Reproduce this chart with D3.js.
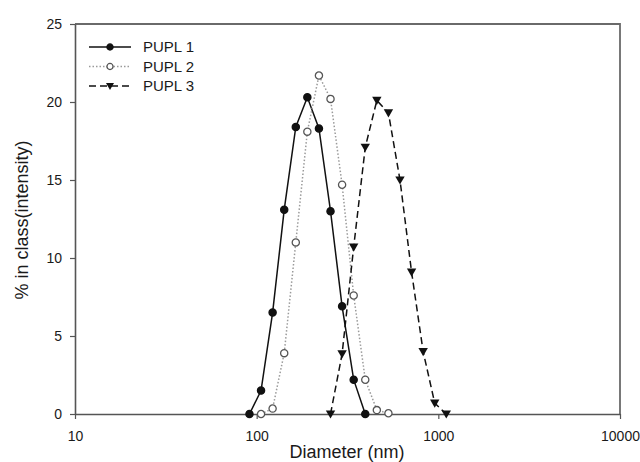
<!DOCTYPE html>
<html>
<head>
<meta charset="utf-8">
<script src="https://cdn.jsdelivr.net/npm/d3@7/dist/d3.min.js"></script>
<style>
  body { margin: 0; background: #fff; }
  svg { display: block; font-family: Arial, 'Liberation Sans', sans-serif; }
</style>
</head>
<body>
<div id="chart"></div>
<script>
// size bins (nm) and % in class for each sample
const pupl1Size = [91.28, 105.7, 122.4, 141.8, 164.2, 190.1, 220.2, 255.0, 295.3, 342.0, 396.1];
const pupl1Value = [0, 1.5, 6.5, 13.1, 18.4, 20.3, 18.3, 13.0, 6.9, 2.2, 0];
const pupl2Size = [105.7, 122.4, 141.8, 164.2, 190.1, 220.2, 255.0, 295.3, 342.0, 396.1, 458.7, 531.2];
const pupl2Value = [0, 0.35, 3.9, 11.0, 18.1, 21.7, 20.2, 14.7, 7.6, 2.2, 0.25, 0.05];
const pupl3Size = [255.0, 295.3, 342.0, 396.1, 458.7, 531.2, 615.1, 712.4, 825.0, 955.4, 1106];
const pupl3Value = [0, 3.85, 10.7, 17.1, 20.1, 19.3, 15.0, 9.1, 4.0, 0.7, 0];

const seriesNames = ['PUPL 1', 'PUPL 2', 'PUPL 3'];
const xTicks = [10, 100, 1000, 10000];
const yTicks = [0, 5, 10, 15, 20, 25];

const width = 640, height = 462;
const margin = { top: 24, right: 20, bottom: 48, left: 75 };

const svg = d3.select('#chart')
  .append('svg')
  .attr('width', width)
  .attr('height', height);

const x = d3.scaleLog().domain([10, 10000]).range([margin.left, width - margin.right]);
const y = d3.scaleLinear().domain([0, 25]).range([height - margin.bottom, margin.top]);

const axisColor = '#555';
const textColor = '#1a1a1a';

// frame (top and right)
svg.append('path')
  .attr('d', `M${x(10)},${y(25)}H${x(10000)}V${y(0)}`)
  .attr('fill', 'none')
  .attr('stroke', '#6a6a6a')
  .attr('stroke-width', 1.8);

// x axis
const xAxis = svg.append('g')
  .attr('transform', `translate(0,${y(0)})`)
  .call(d3.axisBottom(x).tickValues(xTicks).tickFormat(d3.format('d')).tickSize(5).tickPadding(12).tickSizeOuter(0));
xAxis.select('.domain').attr('stroke', axisColor).attr('stroke-width', 1.6);
xAxis.selectAll('.tick line').attr('stroke', axisColor).attr('stroke-width', 1.2);
xAxis.selectAll('.tick text').attr('font-size', 14).attr('fill', textColor).attr('font-family', 'Arial, Liberation Sans, sans-serif');

// y axis
const yAxis = svg.append('g')
  .attr('transform', `translate(${x(10)},0)`)
  .call(d3.axisLeft(y).tickValues(yTicks).tickSize(5).tickPadding(8).tickSizeOuter(0));
yAxis.select('.domain').attr('stroke', axisColor).attr('stroke-width', 1.6);
yAxis.selectAll('.tick line').attr('stroke', axisColor).attr('stroke-width', 1.2);
yAxis.selectAll('.tick text').attr('font-size', 14).attr('fill', textColor).attr('font-family', 'Arial, Liberation Sans, sans-serif');

// axis titles
svg.append('text')
  .attr('x', 347)
  .attr('y', 458)
  .attr('text-anchor', 'middle')
  .attr('font-size', 18)
  .attr('fill', textColor)
  .text('Diameter (nm)');

svg.append('text')
  .attr('transform', 'translate(28,220) rotate(-90)')
  .attr('text-anchor', 'middle')
  .attr('font-size', 18)
  .attr('fill', textColor)
  .text('% in class(intensity)');

const series = [
  { name: seriesNames[0], size: pupl1Size, value: pupl1Value, stroke: '#111', dash: null, marker: 'circle', fill: '#111', mstroke: '#111' },
  { name: seriesNames[1], size: pupl2Size, value: pupl2Value, stroke: '#9a9a9a', dash: '1.5,2', marker: 'circle', fill: '#fff', mstroke: '#555' },
  { name: seriesNames[2], size: pupl3Size, value: pupl3Value, stroke: '#111', dash: '7,4', marker: 'triangle', fill: '#111', mstroke: '#111' }
];

const line = d3.line()
  .x(d => x(d[0]))
  .y(d => y(d[1]));

function drawMarker(g, s, k) {
  if (s.marker === 'circle') {
    g.append('circle')
      .attr('r', 3.6 * k)
      .attr('fill', s.fill)
      .attr('stroke', s.mstroke)
      .attr('stroke-width', 1.3);
  } else {
    g.append('path')
      .attr('d', `M${-4.7 * k},${-3.6 * k}L${4.7 * k},${-3.6 * k}L0,${4.6 * k}Z`)
      .attr('fill', s.fill);
  }
}

series.forEach(s => {
  const pts = s.size.map((d, i) => [d, s.value[i]]);
  svg.append('path')
    .datum(pts)
    .attr('d', line)
    .attr('fill', 'none')
    .attr('stroke', s.stroke)
    .attr('stroke-width', 1.5)
    .attr('stroke-dasharray', s.dash);
});

series.forEach(s => {
  const pts = s.size.map((d, i) => [d, s.value[i]]);
  pts.forEach(p => {
    const g = svg.append('g').attr('transform', `translate(${x(p[0])},${y(p[1])})`);
    drawMarker(g, s, 1);
  });
});

// legend
const legend = svg.append('g');
series.forEach((s, i) => {
  const ly = 47 + i * 19.5;
  legend.append('line')
    .attr('x1', 89).attr('x2', 131)
    .attr('y1', ly).attr('y2', ly)
    .attr('stroke', s.stroke)
    .attr('stroke-width', 1.5)
    .attr('stroke-dasharray', s.dash);
  const g = legend.append('g').attr('transform', `translate(110,${ly})`);
  drawMarker(g, s, 0.85);
  legend.append('text')
    .attr('x', 143)
    .attr('y', ly + 5)
    .attr('font-size', 15)
    .attr('fill', textColor)
    .text(s.name);
});
</script>
</body>
</html>
